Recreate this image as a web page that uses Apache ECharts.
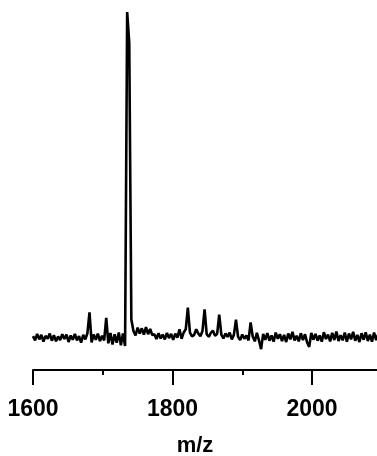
<!DOCTYPE html>
<html>
<head>
<meta charset="utf-8">
<script src="https://cdn.jsdelivr.net/npm/echarts@6/dist/echarts.min.js"></script>
<style>
html, body { margin: 0; padding: 0; background: #fff; overflow: hidden; }
#chart { width: 377px; height: 456px; }
</style>
</head>
<body>
<div id="chart"></div>
<script>
// spectrum sampled every 3 m/z from 1600
var mzStart = 1600;
var mzStep = 3;
var intensity = [
    0.4, -0.9, 1.1, -0.6, 0.8, -1.3, 0.5, -0.4, 1.2, -1.0,
    0.7, -1.2, 0.3, -0.8, 1.0, -0.5, 0.9, -1.4, 0.6, -0.7,
    1.1, -0.9, 0.4, -1.6, 0.8, -0.6, 1.3,
    7.7,
    -1.5, 0.9, -0.7, 1.2, -1.1, 0.5, -0.9,
    6.0,
    -1.8, 1.4, -2.2, 1.0, -1.6, 1.5, -2.4, 1.2, -2.6,
    100, 90.5, 5.5,
    2.0, 0.6, 3.0, 1.2, 2.8, 0.9, 3.2, 1.0, 2.6, 0.7,
    1.0, -0.5, 1.3, -0.3, 0.9, -0.6, 1.4, -0.2, 1.1, -0.7, 1.2, -0.1, 2.5, -0.4, 1.5,
    2.5, 9.2, 1.5, 0.3, 0.8, 2.5,
    1.2, 0.4, 2.0,
    8.6,
    1.0, 0.2, 1.4, 2.1, 0.5, 1.1,
    7.0,
    0.9, -0.3, 1.2, 0.2, 1.5, -0.6, 0.8,
    5.5,
    0.2, -0.8, 0.9, -0.4, 0.6, -0.9,
    4.6,
    0.3, -1.2, 1.4, -0.9, -3.6, 1.1, -0.7, 1.3, -1.0, 0.6,
    -1.3, 1.5, -0.4, 1.0, -1.1, 0.8, -1.4, 1.2, -0.6, 1.7,
    -0.9, 0.5, -1.2, 1.3, -0.8, 1.0, -1.5, -2.9, 1.4, -0.7,
    1.1, -1.0, 0.6, -1.3, 1.6, -0.5, 0.9, -1.2, 1.4, -0.8,
    1.8, -1.1, 0.7, -0.9, 1.5, -1.3, 1.2, -0.6, 1.7, -1.0,
    0.8, -1.4, 1.3, -0.7, 1.6, -1.1, 0.9, -1.3, 1.5, -0.8, 1.0
];
var xTicks = [1600, 1800, 2000];

var points = intensity.map(function (v, i) {
    return [mzStart + mzStep * i, v];
});

var font = '"Liberation Sans", Arial, sans-serif';
var myChart = echarts.init(document.getElementById('chart'));
var option = {
    animation: false,
    backgroundColor: '#fff',
    grid: { left: 33, right: -74.5, top: 12, bottom: 86, outerBoundsMode: 'none', containLabel: false },
    xAxis: {
        type: 'value',
        min: 1600,
        max: 2200,
        interval: 200,
        axisLine: { onZero: false, lineStyle: { color: '#000', width: 2 } },
        axisTick: { length: 15, lineStyle: { color: '#000', width: 2 } },
        minorTick: { show: true, splitNumber: 2, length: 5, lineStyle: { color: '#000', width: 2 } },
        splitLine: { show: false },
        axisLabel: {
            color: '#000',
            fontFamily: font,
            fontWeight: 'bold',
            fontSize: 23,
            margin: 28,
            formatter: function (v) {
                return xTicks.indexOf(v) >= 0 ? String(v) : '';
            }
        }
    },
    yAxis: {
        type: 'value',
        min: -10,
        max: 100,
        show: false
    },
    graphic: [{
        type: 'text',
        x: 195,
        y: 446,
        style: {
            text: 'm/z',
            fill: '#000',
            font: 'bold 22px ' + font,
            textAlign: 'center',
            textVerticalAlign: 'middle'
        }
    }],
    series: [{
        type: 'line',
        data: points,
        showSymbol: false,
        clip: false,
        lineStyle: { color: '#000', width: 2.6 }
    }]
};
myChart.setOption(option);
</script>
</body>
</html>
